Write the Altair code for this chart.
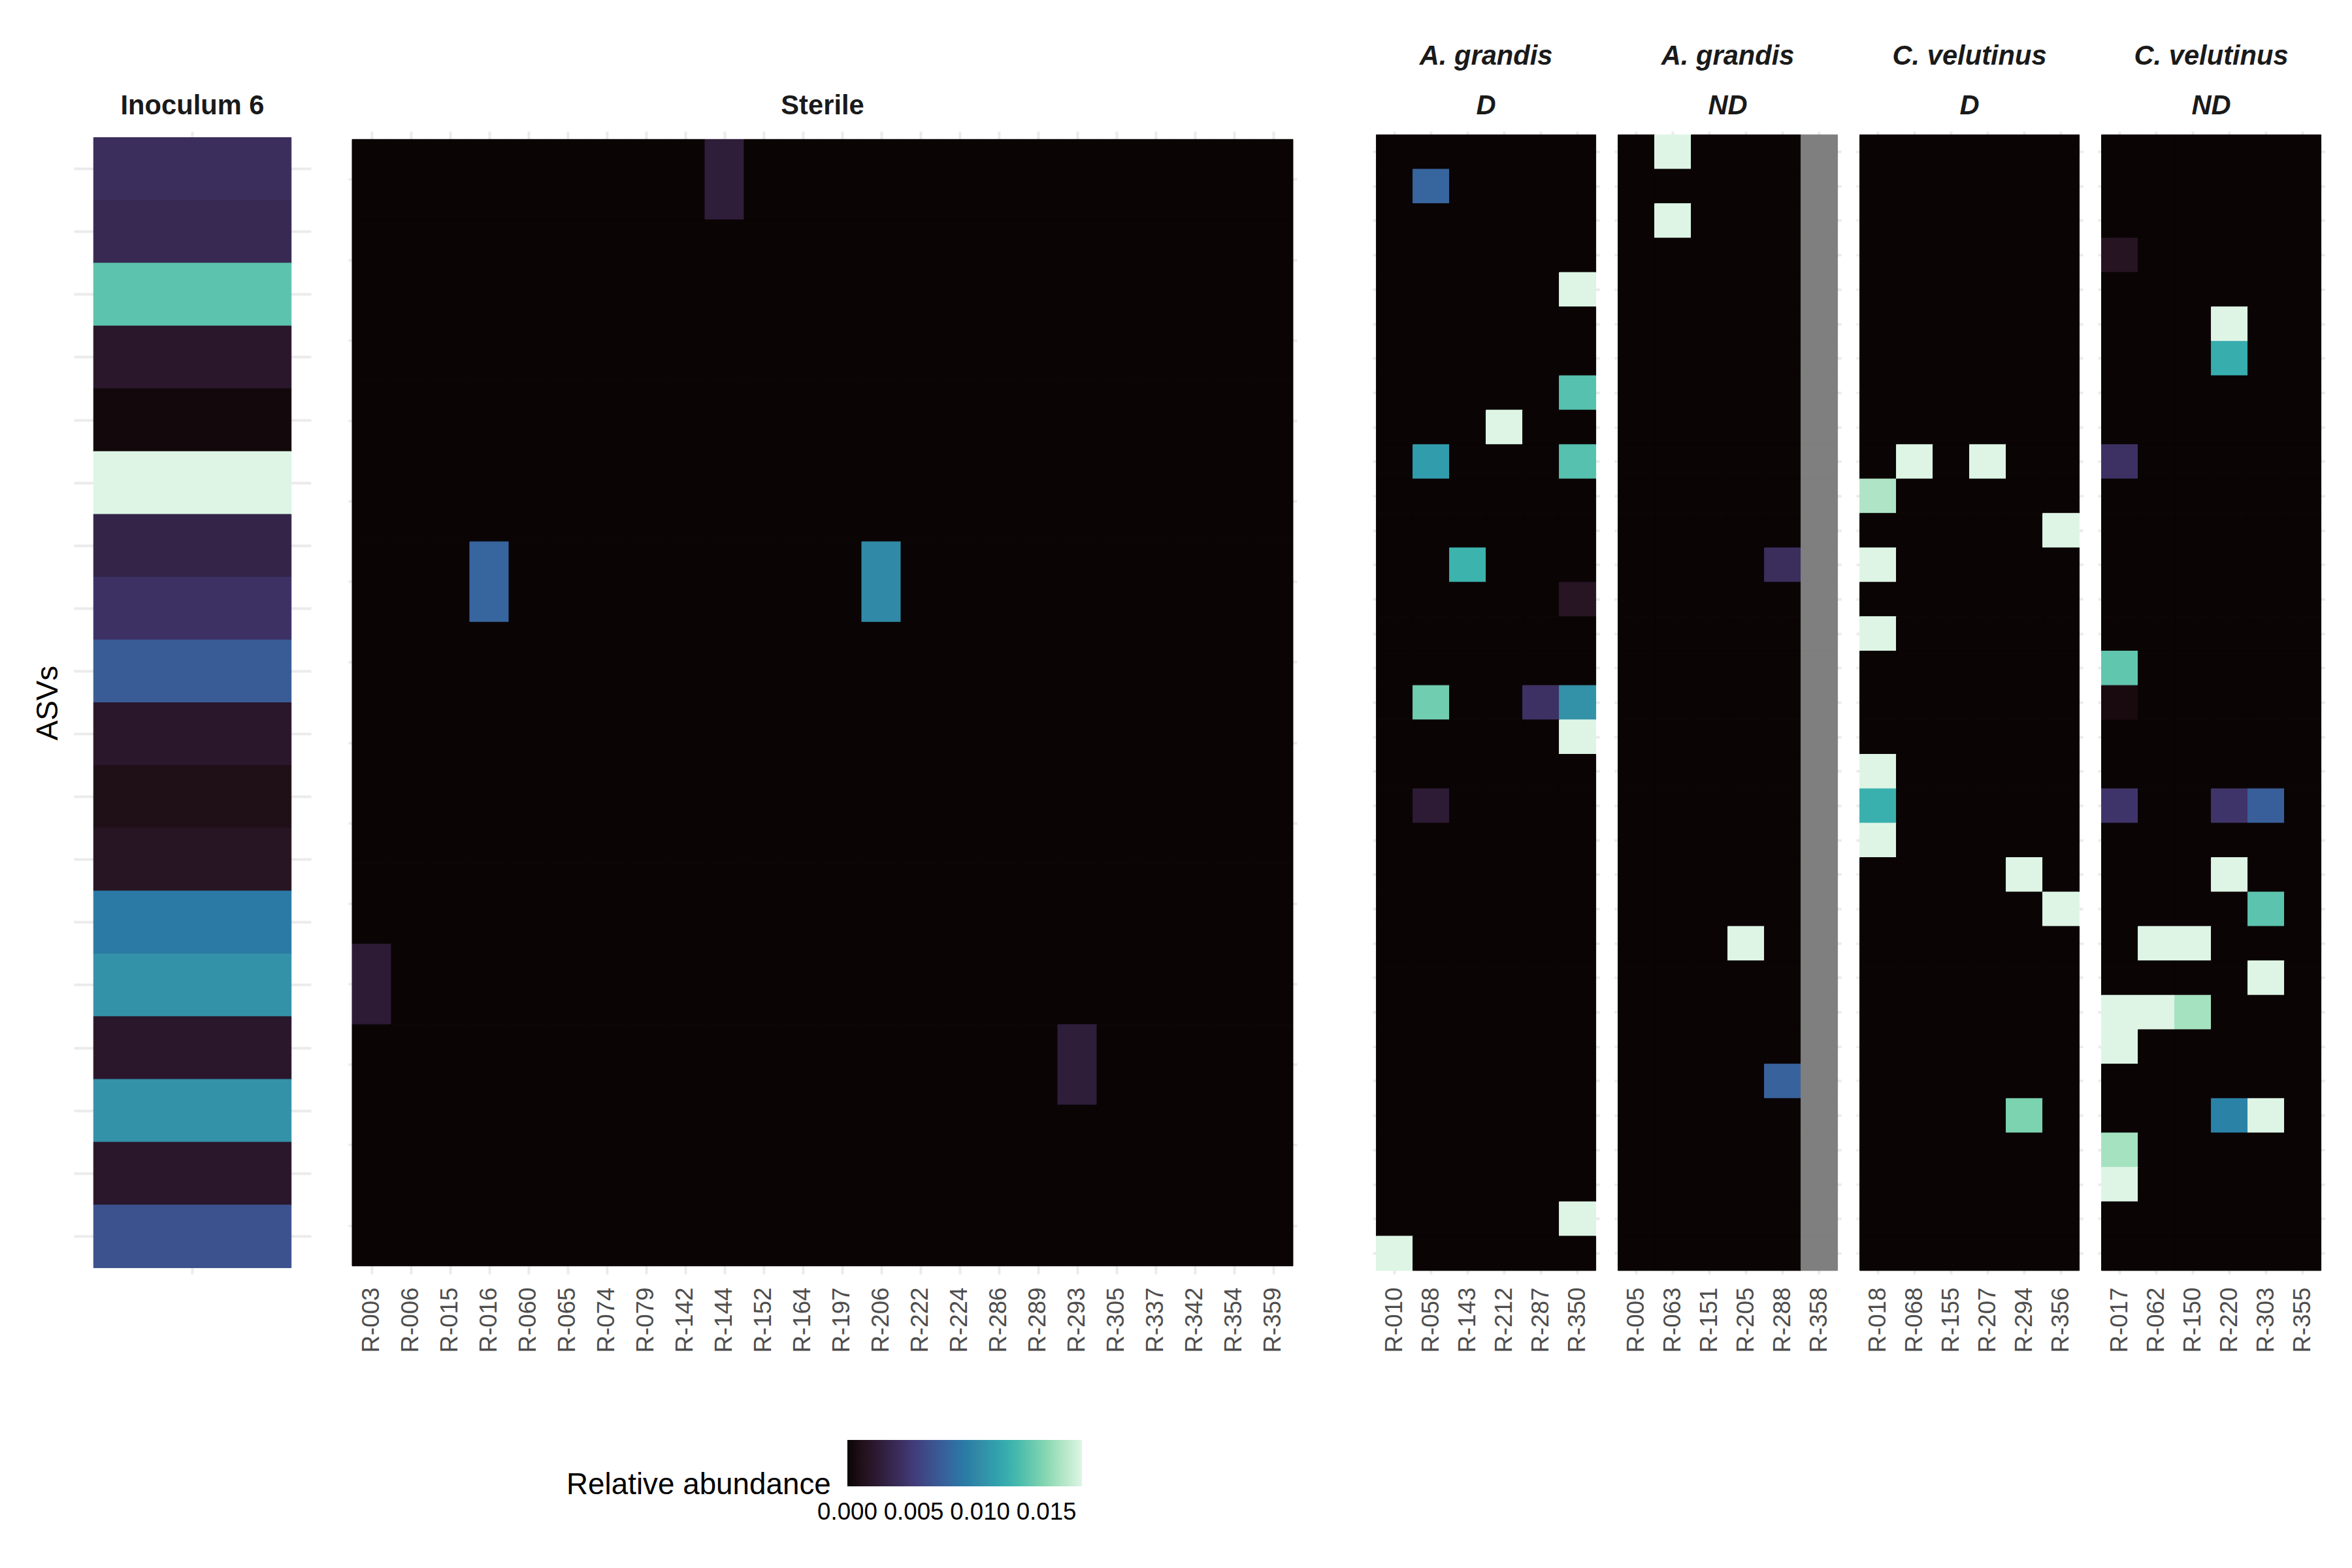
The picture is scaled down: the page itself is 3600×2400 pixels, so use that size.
import altair as alt
import pandas as pd

FONT = "Liberation Sans"
GRID = "#EBEBEB"
NA_GREY = "#7F7F7F"
VMAX = 0.01768
VMIN = -0.000001
MAKO = ["#0B0405", "#2E1E3B", "#413D7B", "#37659E", "#348FA7", "#40B7AD", "#8BDAB2", "#DEF5E5"]

# ---------------- data ----------------
inoc_samples = ["Inoculum 6"]
inoc_values = [0.0039, 0.0035, 0.0135, 0.0019, 0.0003, 0.0177, 0.0031, 0.0042, 0.0070,
               0.0019, 0.0010, 0.0016, 0.0087, 0.0103, 0.0019, 0.0103, 0.0019, 0.0064]

sterile_samples = ["R-003", "R-006", "R-015", "R-016", "R-060", "R-065", "R-074", "R-079",
                   "R-142", "R-144", "R-152", "R-164", "R-197", "R-206", "R-222", "R-224",
                   "R-286", "R-289", "R-293", "R-305", "R-337", "R-342", "R-354", "R-359"]
sterile_n_asv = 14
sterile_cells = [("R-144", 0, 0.0025), ("R-016", 5, 0.0076), ("R-206", 5, 0.0098),
                 ("R-003", 10, 0.0023), ("R-293", 11, 0.0025)]

right_n_asv = 33
agD_samples = ["R-010", "R-058", "R-143", "R-212", "R-287", "R-350"]
agD_cells = [("R-058", 1, 0.0076), ("R-350", 4, 0.0177), ("R-350", 7, 0.0133), ("R-212", 8, 0.0177),
             ("R-058", 9, 0.0109), ("R-350", 9, 0.0133), ("R-143", 12, 0.0124), ("R-350", 13, 0.0016),
             ("R-058", 16, 0.0142), ("R-287", 16, 0.0042), ("R-350", 16, 0.0103), ("R-350", 17, 0.0177),
             ("R-058", 19, 0.0023), ("R-350", 31, 0.0177), ("R-010", 32, 0.0177)]

agND_samples = ["R-005", "R-063", "R-151", "R-205", "R-288", "R-358"]
agND_na = ["R-358"]
agND_cells = [("R-063", 0, 0.0177), ("R-063", 2, 0.0177), ("R-288", 12, 0.0039),
              ("R-205", 23, 0.0177), ("R-288", 27, 0.0074)]

cvD_samples = ["R-018", "R-068", "R-155", "R-207", "R-294", "R-356"]
cvD_cells = [("R-068", 9, 0.0177), ("R-207", 9, 0.0177), ("R-018", 10, 0.0162), ("R-356", 11, 0.0177),
             ("R-018", 12, 0.0177), ("R-018", 14, 0.0177), ("R-018", 18, 0.0177), ("R-018", 19, 0.0122),
             ("R-018", 20, 0.0177), ("R-294", 21, 0.0177), ("R-356", 22, 0.0177), ("R-294", 28, 0.0146)]

cvND_samples = ["R-017", "R-062", "R-150", "R-220", "R-303", "R-355"]
cvND_cells = [("R-017", 3, 0.0015), ("R-220", 5, 0.0177), ("R-220", 6, 0.0120), ("R-017", 9, 0.0042),
              ("R-017", 15, 0.0137), ("R-017", 16, 0.0005), ("R-017", 19, 0.0044), ("R-220", 19, 0.0044),
              ("R-303", 19, 0.0072), ("R-220", 21, 0.0177), ("R-303", 22, 0.0135), ("R-062", 23, 0.0177),
              ("R-150", 23, 0.0177), ("R-303", 24, 0.0177), ("R-017", 25, 0.0177), ("R-062", 25, 0.0177),
              ("R-150", 25, 0.0159), ("R-017", 26, 0.0177), ("R-220", 28, 0.0093), ("R-303", 28, 0.0177),
              ("R-017", 29, 0.0159), ("R-017", 30, 0.0177)]


def asv_names(n):
    return [f"ASV {i + 1:02d}" for i in range(n)]


def grid_df(samples, n_rows, cells, na_samples=()):
    lookup = {(s, r): v for s, r, v in cells}
    rows = []
    for r, a in enumerate(asv_names(n_rows)):
        for s in samples:
            v = None if s in na_samples else lookup.get((s, r), 0.0)
            rows.append({"sample": s, "asv": a, "value": v})
    return pd.DataFrame(rows)


inoc_df = pd.DataFrame({"sample": inoc_samples * len(inoc_values),
                        "asv": asv_names(len(inoc_values)),
                        "value": inoc_values})

# ---------------- chart ----------------
stops = [VMIN] + [VMAX * i / 7 for i in range(1, 8)]
color_scale = alt.Scale(domain=stops, range=MAKO, clamp=True)
# edge stroke uses the same colours on a per-mille domain (kept separate so it does not join the legend)
stroke_scale = alt.Scale(domain=[1000 * s for s in stops], range=MAKO, clamp=True)
legend = alt.Legend(type="gradient", title="Relative abundance", orient="none", legendX=754, legendY=2003,
                    direction="horizontal", gradientLength=359, gradientThickness=71,
                    gradientStrokeWidth=0, values=[0, 0.005, 0.01, 0.015], format=".3f",
                    labelFont=FONT, labelFontSize=36.7, labelColor="black", labelAlign="center",
                    labelOverlap=False, labelOffset=22,
                    titleFont=FONT, titleFontSize=45.8, titleFontWeight="normal",
                    titleColor="black", titleOrient="left", titleAnchor="middle",
                    titleBaseline="line-top", titleLineHeight=67, titlePadding=25, titleLimit=1000)

PANEL_H = 1749


def panel(df, samples, n_rows, width, title_text, italic, ytitle=None, xlabels=True):
    asvs = asv_names(n_rows)
    xaxis = alt.Axis(title=None, labels=xlabels, labelAngle=270, labelFont=FONT, labelFontSize=36.7,
                     labelColor="#4D4D4D", labelPadding=20, ticks=False, domain=False, grid=True,
                     gridColor=GRID, gridWidth=4, bandPosition=0.5, zindex=0)
    ykw = dict(labels=False, ticks=False, domain=False, grid=True, gridColor=GRID, gridWidth=4,
               bandPosition=0.5, zindex=0)
    if ytitle:
        ykw.update(title=ytitle, titleFont=FONT, titleFontSize=45.8, titleFontWeight="normal",
                   titleColor="black", titlePadding=16)
    else:
        ykw.update(title=None)
    base = alt.Chart(df).encode(
        x=alt.X("sample:N", sort=samples, scale=alt.Scale(paddingInner=0, paddingOuter=0.1), axis=xaxis),
        y=alt.Y("asv:N", sort=asvs, scale=alt.Scale(paddingInner=0, paddingOuter=0.1), axis=alt.Axis(**ykw)),
    )
    tiles = (base.transform_filter("isValid(datum.value)")
             .transform_calculate(edge="datum.value * 1000")
             .mark_rect(strokeWidth=1, opacity=1)
             .encode(color=alt.Color("value:Q", scale=color_scale, legend=legend),
                     stroke=alt.Stroke("edge:Q", scale=stroke_scale, legend=None)))
    na = base.transform_filter("!isValid(datum.value)").mark_rect(
        color=NA_GREY, stroke=NA_GREY, strokeWidth=1, opacity=1)
    tkw = dict(text=title_text, font=FONT, fontSize=41.7, fontWeight="bold", color="#1A1A1A",
               anchor="middle", baseline="bottom", offset=-25, lineHeight=76)
    if italic:
        tkw["fontStyle"] = "italic"
    return alt.layer(tiles, na).properties(width=width, height=PANEL_H, title=alt.TitleParams(**tkw))


inoc = panel(inoc_df, inoc_samples, len(inoc_values), 363, "Inoculum 6", False, ytitle="ASVs", xlabels=False)
sterile = panel(grid_df(sterile_samples, sterile_n_asv, sterile_cells), sterile_samples, sterile_n_asv,
                1452, "Sterile", False)
RW = 347.2
agD = panel(grid_df(agD_samples, right_n_asv, agD_cells), agD_samples, right_n_asv, RW,
            ["A. grandis", "D"], True)
agND = panel(grid_df(agND_samples, right_n_asv, agND_cells, agND_na), agND_samples, right_n_asv, RW,
             ["A. grandis", "ND"], True)
cvD = panel(grid_df(cvD_samples, right_n_asv, cvD_cells), cvD_samples, right_n_asv, RW,
            ["C. velutinus", "D"], True)
cvND = panel(grid_df(cvND_samples, right_n_asv, cvND_cells), cvND_samples, right_n_asv, RW,
             ["C. velutinus", "ND"], True)

left = alt.hconcat(inoc, sterile, spacing=57)
right = alt.hconcat(agD, agND, cvD, cvND, spacing=22)

chart = alt.hconcat(left, right, spacing=116).properties(
    padding={"left": 50, "top": 66, "right": 20, "bottom": 20},
    background="white",
).configure_view(strokeWidth=0)

chart.save("out.html", embed_options={"renderer": "svg", "actions": False})
